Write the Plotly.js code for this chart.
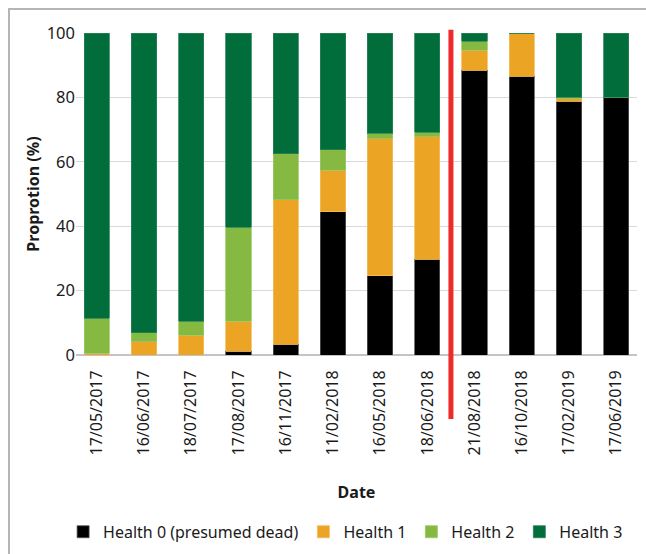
<!DOCTYPE html>
<html>
<head>
<meta charset="utf-8">
<script src="https://cdn.plot.ly/plotly-3.0.1.min.js"></script>
<style>
  html, body { margin: 0; padding: 0; background: #fff; overflow: hidden; }
  #frame { position: absolute; left: 8px; top: 8px; width: 700px; height: 600px;
           border-top: 2px solid #b5b5b5; border-left: 2px solid #b5b5b5; }
  #chart { position: absolute; left: 0; top: 0; width: 646px; height: 554px; }
</style>
</head>
<body>
<div id="frame"></div>
<div id="chart"></div>
<script>
const dates = ["17/05/2017","16/06/2017","18/07/2017","17/08/2017","16/11/2017","11/02/2018",
               "16/05/2018","18/06/2018","21/08/2018","16/10/2018","17/02/2019","17/06/2019"];
const health0 = [0, 0, 0, 1.1, 3.4, 44.5, 24.6, 29.8, 88.5, 86.6, 78.8, 80.0];
const health1 = [0.5, 4.1, 6.2, 9.4, 44.8, 12.9, 42.5, 38.0, 6.1, 13.4, 0.8, 0];
const health2 = [10.9, 2.8, 4.3, 29.1, 14.3, 6.4, 1.8, 1.4, 2.9, 0, 0.4, 0];
const health3 = [88.6, 93.1, 89.5, 60.4, 37.5, 36.2, 31.1, 30.8, 2.5, 0, 20.0, 20.0];
const seriesNames = ["Health 0 (presumed dead)", "Health 1", "Health 2", "Health 3"];
const seriesColors = ["#000000", "#eca424", "#86b942", "#006d3b"];
const seriesLines = ["#555555", "#f3bd5c", "#9cc866", "#2a8257"];
const dividerAt = 7.5;

const values = [health0, health1, health2, health3];
const idx = dates.map((d, i) => i);
const traces = values.map((v, k) => ({
  type: "bar",
  name: seriesNames[k],
  x: idx,
  y: v,
  marker: { color: seriesColors[k], line: { color: seriesLines[k], width: 0.8 } },
  hoverinfo: "x+y+name"
}));

const font = "'Noto Sans', 'Open Sans', sans-serif";
const layout = {
  width: 646, height: 554,
  paper_bgcolor: "rgba(0,0,0,0)",
  plot_bgcolor: "rgba(0,0,0,0)",
  margin: { l: 76, r: 9, t: 33, b: 199 },
  barmode: "stack",
  bargap: 0.464,
  font: { family: font, size: 16, color: "#1a1a1a" },
  showlegend: true,
  legend: {
    orientation: "h", traceorder: "normal",
    xref: "container", yref: "container",
    x: 0.535, xanchor: "center", y: 0.04, yanchor: "middle",
    font: { family: font, size: 16, color: "#1a1a1a" },
    itemwidth: 30, tracegroupgap: 0
  },
  xaxis: {
    type: "linear",
    range: [-0.44, 11.44],
    tickmode: "array", tickvals: idx, ticktext: dates,
    tickangle: -90,
    showgrid: false, zeroline: false, showline: false,
    ticks: "outside", ticklen: 8, tickcolor: "rgba(0,0,0,0)",
    tickfont: { family: font, size: 16, color: "#1a1a1a" },
    title: { text: "<b>Date</b>", standoff: 32, font: { family: font, size: 16, color: "#1a1a1a" } },
    automargin: false
  },
  yaxis: {
    range: [0, 100],
    tickmode: "array", tickvals: [0, 20, 40, 60, 80, 100],
    showgrid: true, gridcolor: "#d9d9d9", gridwidth: 1,
    zeroline: true, zerolinecolor: "#c4c4c4", zerolinewidth: 2,
    showline: false, ticks: "",
    tickfont: { family: font, size: 16.5, color: "#1a1a1a" },
    title: { text: "<b>Proprotion (%)</b>", standoff: 3, font: { family: font, size: 16, color: "#1a1a1a" } },
    automargin: false
  },
  shapes: [{
    type: "line", xref: "x", yref: "paper",
    x0: dividerAt, x1: dividerAt, y0: -0.199, y1: 1.010,
    line: { color: "#ee2a2a", width: 5 }
  }]
};

Plotly.newPlot("chart", traces, layout, { displayModeBar: false, staticPlot: true });
</script>
</body>
</html>
